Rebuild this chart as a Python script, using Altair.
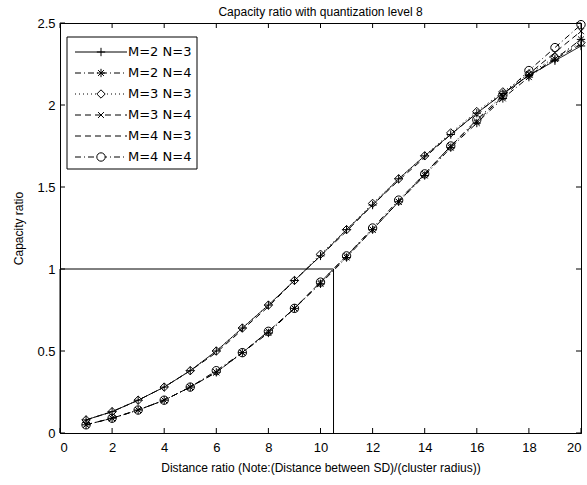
import altair as alt
import pandas as pd

# Distance ratio sample points
distance = list(range(1, 21))

# Capacity ratio per (M, N) configuration
m2n3 = [0.08, 0.13, 0.20, 0.28, 0.38, 0.50, 0.64, 0.78, 0.93, 1.08, 1.24, 1.39, 1.55, 1.69, 1.82, 1.95, 2.07, 2.18, 2.27, 2.36]
m2n4 = [0.05, 0.09, 0.14, 0.20, 0.28, 0.37, 0.49, 0.61, 0.76, 0.91, 1.07, 1.24, 1.41, 1.57, 1.74, 1.89, 2.04, 2.17, 2.28, 2.40]
m3n3 = [0.08, 0.13, 0.20, 0.28, 0.38, 0.50, 0.64, 0.78, 0.93, 1.09, 1.24, 1.40, 1.55, 1.69, 1.83, 1.96, 2.08, 2.19, 2.29, 2.38]
m3n4 = [0.05, 0.09, 0.14, 0.20, 0.28, 0.37, 0.49, 0.62, 0.76, 0.92, 1.08, 1.24, 1.41, 1.58, 1.75, 1.90, 2.05, 2.19, 2.32, 2.45]
m4n3 = [0.08, 0.13, 0.20, 0.28, 0.38, 0.49, 0.63, 0.77, 0.93, 1.08, 1.23, 1.39, 1.54, 1.68, 1.82, 1.95, 2.07, 2.18, 2.28, 2.37]
m4n4 = [0.05, 0.09, 0.14, 0.20, 0.28, 0.38, 0.49, 0.62, 0.76, 0.92, 1.08, 1.25, 1.42, 1.58, 1.75, 1.91, 2.06, 2.21, 2.35, 2.49]

series_names = ["M=2 N=3", "M=2 N=4", "M=3 N=3", "M=3 N=4", "M=4 N=3", "M=4 N=4"]
series_values = [m2n3, m2n4, m3n3, m3n4, m4n3, m4n4]

# Reference box: capacity ratio 1 reached at distance ratio 10.5
box_x = [0, 0, 10.5, 10.5]
box_y = [0, 1, 1, 0]

x_ticks = [0, 2, 4, 6, 8, 10, 12, 14, 16, 18, 20]
y_ticks = [0, 0.5, 1, 1.5, 2, 2.5]

# Line style and marker for each series
PLUS = "M-1,0L1,0M0,-1L0,1"
STAR = "M-1,0L1,0M0,-1L0,1M-0.7,-0.7L0.7,0.7M-0.7,0.7L0.7,-0.7"
XMARK = "M-0.7,-0.7L0.7,0.7M-0.7,0.7L0.7,-0.7"
dashes = [[1, 0], [6, 3, 1, 3], [1, 3], [6, 4], [6, 4], [6, 3, 1, 3]]
shapes = [PLUS, STAR, "diamond", XMARK, None, "circle"]

W, H = 521, 410
FONT = "Liberation Sans"

rows = []
for name, vals in zip(series_names, series_values):
    for d, v in zip(distance, vals):
        rows.append({"series": name, "distance": d, "ratio": v})
df = pd.DataFrame(rows)

x_scale = alt.Scale(domain=[0, 20], nice=False, zero=False)
y_scale = alt.Scale(domain=[0, 2.5], nice=False, zero=False)

x_enc = alt.X(
    "distance:Q", scale=x_scale,
    axis=alt.Axis(values=x_ticks, title="Distance ratio (Note:(Distance between SD)/(cluster radius))",
                  titlePadding=8, labelPadding=8, grid=False, ticks=False, tickSize=0),
)
y_enc = alt.Y(
    "ratio:Q", scale=y_scale,
    axis=alt.Axis(values=y_ticks, title="Capacity ratio", labelPadding=5, titlePadding=11,
                  grid=False, ticks=False, tickSize=0, labelExpr="datum.value"),
)

xq = alt.X("distance:Q", scale=x_scale)
yq = alt.Y("ratio:Q", scale=y_scale)

lines = alt.Chart(df).mark_line(color="black", strokeWidth=1).encode(
    x=x_enc,
    y=y_enc,
    strokeDash=alt.StrokeDash("series:N", scale=alt.Scale(domain=series_names, range=dashes), legend=None),
    detail="series:N",
)

marker_layers = []
for name, shp in zip(series_names, shapes):
    if shp is None:
        continue
    marker_layers.append(
        alt.Chart(df).transform_filter(alt.datum.series == name)
        .mark_point(shape=shp, filled=False, color="black", size=70, strokeWidth=1, opacity=1)
        .encode(x=xq, y=yq)
    )

box_df = pd.DataFrame({"distance": box_x, "ratio": box_y, "order": [0, 1, 2, 3]})
box = alt.Chart(box_df).mark_line(color="black", strokeWidth=1).encode(x=xq, y=yq, order="order:Q")

# Inward tick marks on all four sides
xt = pd.DataFrame({"distance": x_ticks})
yt = pd.DataFrame({"ratio": y_ticks})
tick_layers = [
    alt.Chart(xt).mark_rule(color="black", strokeWidth=1).encode(x=xq, y=alt.value(H), y2=alt.value(H - 5)),
    alt.Chart(xt).mark_rule(color="black", strokeWidth=1).encode(x=xq, y=alt.value(0), y2=alt.value(5)),
    alt.Chart(yt).mark_rule(color="black", strokeWidth=1).encode(y=yq, x=alt.value(0), x2=alt.value(5)),
    alt.Chart(yt).mark_rule(color="black", strokeWidth=1).encode(y=yq, x=alt.value(W), x2=alt.value(W - 5)),
]

# Legend box with line sample, marker and label per series
legend_layers = [
    alt.Chart(alt.Data(values=[{"k": 0}])).mark_rect(fill="white", stroke="black", strokeWidth=1).encode(
        x=alt.value(7), x2=alt.value(137), y=alt.value(14), y2=alt.value(146))
]
for i, (name, dash, shp) in enumerate(zip(series_names, dashes, shapes)):
    yy = 29 + 21 * i
    src = alt.Data(values=[{"label": name}])
    legend_layers.append(
        alt.Chart(src).mark_rule(color="black", strokeWidth=1, strokeDash=dash).encode(
            x=alt.value(15), x2=alt.value(67), y=alt.value(yy))
    )
    if shp is not None:
        legend_layers.append(
            alt.Chart(src).mark_point(shape=shp, filled=False, color="black", size=70, strokeWidth=1,
                                      opacity=1, fill="white").encode(x=alt.value(41), y=alt.value(yy))
        )
    legend_layers.append(
        alt.Chart(src).mark_text(align="left", baseline="middle", font="DejaVu Sans", fontSize=13,
                                 color="black").encode(x=alt.value(68), y=alt.value(yy), text="label:N")
    )

chart = alt.layer(
    lines, *marker_layers, box, *tick_layers, *legend_layers
).properties(
    width=W,
    height=H,
    title=alt.TitleParams("Capacity ratio with quantization level 8", font=FONT, fontSize=12,
                          fontWeight="normal", color="black", offset=0, dy=2),
    autosize=alt.AutoSizeParams(type="none"),
    padding={"left": 60, "top": 23, "right": 6, "bottom": 52},
    background="white",
).configure_view(
    stroke="black", strokeWidth=1
).configure_axis(
    grid=False, ticks=False, tickSize=0, domainColor="black", domainWidth=1,
    labelFont=FONT, labelFontSize=13, labelColor="black",
    titleFont=FONT, titleFontSize=12, titleColor="black", titleFontWeight="normal",
)

chart.save("out.html", embed_options={"renderer": "svg", "actions": False})
